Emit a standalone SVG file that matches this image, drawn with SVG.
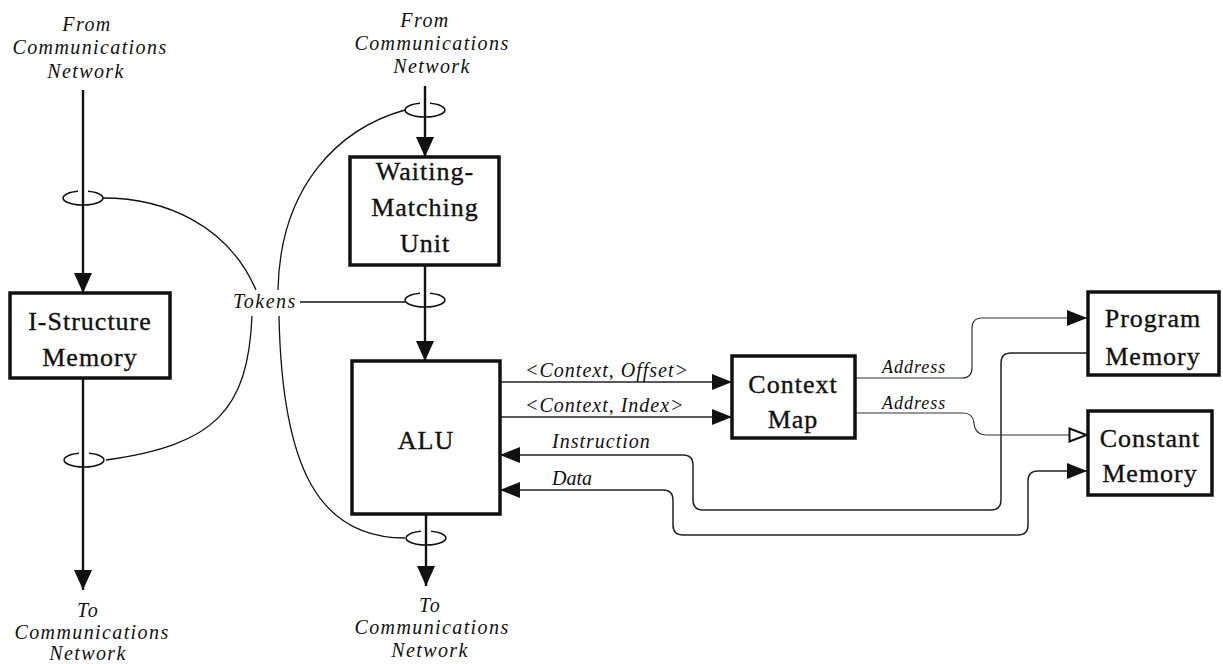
<svg xmlns="http://www.w3.org/2000/svg" width="1223" height="664" viewBox="0 0 1223 664">
  <style>
    .box { fill: #fff; stroke: #111; stroke-width: 3.5; }
    .name { font-family: "Liberation Serif", "Times New Roman", serif; font-size: 26px; letter-spacing: 1px; fill: #111; text-anchor: middle; stroke: #111; stroke-width: 0.35; }
    .lbl { font-family: "Liberation Serif", "Times New Roman", serif; font-style: italic; font-size: 20px; fill: #111; }
    .net { text-anchor: middle; letter-spacing: 1.4px; }
    .wire { fill: none; stroke: #111; stroke-width: 2.4; }
    .link { fill: none; stroke: #222; stroke-width: 1.5; }
    .addr { fill: none; stroke: #333; stroke-width: 1.2; }
    .ring { fill: none; stroke: #111; stroke-width: 1.6; }
    .tok { fill: none; stroke: #111; stroke-width: 1.3; }
  </style>
  <defs>
    <marker id="bigHead" markerUnits="userSpaceOnUse" viewBox="0 0 20 18" markerWidth="20" markerHeight="18" refX="20" refY="9" orient="auto">
      <path d="M0,0 L20,9 L0,18 Z" fill="#111"/>
    </marker>
    <marker id="head" markerUnits="userSpaceOnUse" viewBox="0 0 20 16" markerWidth="20" markerHeight="16" refX="20" refY="8" orient="auto-start-reverse">
      <path d="M0,0 L20,8 L0,16 Z" fill="#111"/>
    </marker>
    <marker id="openHead" markerUnits="userSpaceOnUse" viewBox="0 0 20 16" markerWidth="20" markerHeight="16" refX="19" refY="8" orient="auto">
      <path d="M1.5,1.5 L18.5,8 L1.5,14.5 Z" fill="#fff" stroke="#111" stroke-width="2"/>
    </marker>
  </defs>

  <!-- network labels -->
  <g id="labels-network">
    <text class="lbl net" x="87" y="31">From</text>
    <text class="lbl net" x="90" y="54">Communications</text>
    <text class="lbl net" x="86" y="78">Network</text>

    <text class="lbl net" x="425" y="27">From</text>
    <text class="lbl net" x="432" y="50">Communications</text>
    <text class="lbl net" x="432" y="73">Network</text>

    <text class="lbl net" x="88" y="617">To</text>
    <text class="lbl net" x="92" y="639">Communications</text>
    <text class="lbl net" x="88" y="660">Network</text>

    <text class="lbl net" x="430" y="612">To</text>
    <text class="lbl net" x="432" y="634">Communications</text>
    <text class="lbl net" x="430" y="657">Network</text>
  </g>

  <!-- connectors -->
  <g id="connectors">
    <!-- token flow wires -->
    <path class="wire" d="M83,90 V293" marker-end="url(#bigHead)"/>
    <path class="wire" d="M83,378 V590" marker-end="url(#bigHead)"/>
    <path class="wire" d="M425,86 V157" marker-end="url(#bigHead)"/>
    <path class="wire" d="M425,265 V361" marker-end="url(#bigHead)"/>
    <path class="wire" d="M426,514 V586" marker-end="url(#bigHead)"/>

    <!-- rings marking token streams -->
    <path class="ring" d="M78,191.2 A20 7 0 1 0 88,191.2"/>
    <path class="ring" d="M79,453.2 A20 7 0 1 0 89,453.2"/>
    <path class="ring" d="M420,103.2 A20 7 0 1 0 430,103.2"/>
    <path class="ring" d="M420,293.2 A20 7 0 1 0 430,293.2"/>
    <path class="ring" d="M421,531.2 A20 7 0 1 0 431,531.2"/>

    <!-- "Tokens" leader lines -->
    <path class="tok" d="M103,198 C165,198 228,225 256,290"/>
    <path class="tok" d="M405,110 C340,128 280,185 278,290"/>
    <path class="tok" d="M252,316 C248,410 215,445 106,460"/>
    <path class="tok" d="M279,316 C282,470 320,538 405,538"/>
    <path class="tok" d="M300,302 H405"/>

    <!-- ALU to Context Map -->
    <path class="link" d="M500,382 H732" marker-end="url(#head)"/>
    <path class="link" d="M500,417 H732" marker-end="url(#head)"/>

    <!-- Context Map to memories -->
    <path class="addr" d="M855,378 H962 Q972,378 972,368 V328 Q972,318 982,318 H1087" marker-end="url(#head)"/>
    <path class="addr" d="M855,413 H963 Q973,413 974,423 Q975,435 987,435 H1087" marker-end="url(#openHead)"/>

    <!-- Program Memory back to ALU -->
    <path class="link" d="M1088,353 H1011 Q1001,353 1001,363 V500 Q1001,510 991,510 H703 Q693,510 693,500 V465 Q693,455 683,455 H500" marker-end="url(#head)"/>

    <!-- Constant Memory and ALU data path -->
    <path class="link" d="M500,490 H663 Q673,490 673,500 V525 Q673,535 683,535 H1018 Q1028,535 1028,525 V481 Q1028,471 1038,471 H1087" marker-start="url(#head)" marker-end="url(#head)"/>
  </g>

  <!-- connector labels -->
  <g id="labels-links">
    <text class="lbl" x="233" y="308" style="letter-spacing:1.5px">Tokens</text>
    <text class="lbl" x="525" y="377" style="letter-spacing:1px">&lt;Context, Offset&gt;</text>
    <text class="lbl" x="525" y="412" style="letter-spacing:1px">&lt;Context, Index&gt;</text>
    <text class="lbl" x="552" y="448" style="letter-spacing:1px">Instruction</text>
    <text class="lbl" x="552" y="485">Data</text>
    <text class="lbl" x="882" y="373" style="font-size:18px;letter-spacing:1px">Address</text>
    <text class="lbl" x="882" y="409" style="font-size:18px;letter-spacing:1px">Address</text>
  </g>

  <g id="i-structure-memory">
    <rect class="box" x="10" y="293" width="160" height="85"/>
    <text class="name" x="90" y="330">I-Structure</text>
    <text class="name" x="90" y="366">Memory</text>
  </g>

  <g id="waiting-matching-unit">
    <rect class="box" x="350" y="157" width="149" height="108"/>
    <text class="name" x="425" y="180">Waiting-</text>
    <text class="name" x="425" y="216">Matching</text>
    <text class="name" x="425" y="252">Unit</text>
  </g>

  <g id="alu">
    <rect class="box" x="352" y="361" width="148" height="153"/>
    <text class="name" x="426" y="449">ALU</text>
  </g>

  <g id="context-map">
    <rect class="box" x="732" y="356" width="123" height="82"/>
    <text class="name" x="793" y="393">Context</text>
    <text class="name" x="793" y="428">Map</text>
  </g>

  <g id="program-memory">
    <rect class="box" x="1088" y="292" width="131" height="83"/>
    <text class="name" x="1153" y="327">Program</text>
    <text class="name" x="1153" y="365">Memory</text>
  </g>

  <g id="constant-memory">
    <rect class="box" x="1088" y="411" width="124" height="84"/>
    <text class="name" x="1150" y="447">Constant</text>
    <text class="name" x="1150" y="482">Memory</text>
  </g>
</svg>
